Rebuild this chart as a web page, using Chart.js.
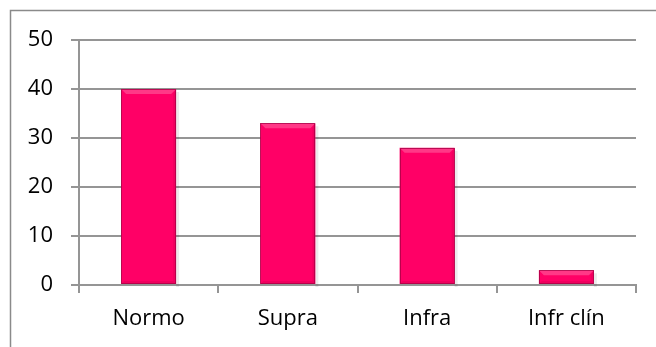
<!DOCTYPE html>
<html>
<head>
<meta charset="utf-8">
<script src="https://cdn.jsdelivr.net/npm/chart.js@4"></script>
<style>
  html, body { margin: 0; padding: 0; background: #fff; }
  #wrap { width: 656px; height: 347px; }
</style>
</head>
<body>
<div id="wrap"><canvas id="chart" width="656" height="347"></canvas></div>
<script>
// categories and counts
const labels = ['Normo', 'Supra', 'Infra', 'Infr clín'];
const counts = [40, 33, 28, 3];
const yTicks = [0, 10, 20, 30, 40, 50];

const BAR = '#FF0066';
const AXIS = '#959595';

// thin frame round the whole chart (its right and bottom edges run off the canvas)
const frame = {
  id: 'frame',
  beforeDraw(chart) {
    const ctx = chart.ctx;
    ctx.save();
    ctx.strokeStyle = '#8a8a8a';
    ctx.lineWidth = 1.5;
    ctx.strokeRect(10.5, 10.5, chart.width + 20, chart.height + 20);
    ctx.restore();
  }
};

// bevelled look on each bar: light top facet, faint darker sides, soft shadow
const bevel = {
  id: 'bevel',
  beforeDatasetsDraw(chart) {
    const ctx = chart.ctx;
    chart.getDatasetMeta(0).data.forEach(bar => {
      const r = bar.x + bar.width / 2;
      ctx.save();
      ctx.fillStyle = 'rgba(0,0,0,0.08)';
      ctx.fillRect(r, bar.y + 3, 3, bar.base - bar.y);
      ctx.restore();
    });
  },
  afterDatasetsDraw(chart) {
    const ctx = chart.ctx;
    chart.getDatasetMeta(0).data.forEach(bar => {
      const l = bar.x - bar.width / 2, r = bar.x + bar.width / 2;
      const t = bar.y, b = bar.base;
      const d = Math.min(5, (b - t) / 2);
      ctx.save();
      // top facet
      ctx.fillStyle = 'rgba(255,255,255,0.22)';
      ctx.beginPath();
      ctx.moveTo(l, t); ctx.lineTo(r, t); ctx.lineTo(r - d, t + d); ctx.lineTo(l + d, t + d);
      ctx.closePath(); ctx.fill();
      // right facet
      ctx.fillStyle = 'rgba(120,0,40,0.10)';
      ctx.beginPath();
      ctx.moveTo(r, t); ctx.lineTo(r - 3, t + d); ctx.lineTo(r - 3, b - 3); ctx.lineTo(r, b);
      ctx.closePath(); ctx.fill();
      // bottom facet
      ctx.fillStyle = 'rgba(120,0,40,0.12)';
      ctx.beginPath();
      ctx.moveTo(l, b); ctx.lineTo(l + 3, b - 3); ctx.lineTo(r - 3, b - 3); ctx.lineTo(r, b);
      ctx.closePath(); ctx.fill();
      ctx.strokeStyle = 'rgba(170,0,70,0.8)';
      ctx.lineWidth = 1;
      ctx.strokeRect(Math.round(l) + 0.5, Math.round(t) + 0.5, Math.round(r - l) - 1, Math.round(b - t) - 1);
      ctx.restore();
    });
  }
};

Chart.defaults.font.family = '"Open Sans", sans-serif';
Chart.defaults.font.size = 22;
Chart.defaults.color = '#000';

new Chart(document.getElementById('chart'), {
  type: 'bar',
  data: {
    labels: labels,
    datasets: [{
      data: counts,
      backgroundColor: BAR,
      borderWidth: 0,
      categoryPercentage: 1,
      barPercentage: 0.395
    }]
  },
  options: {
    responsive: false,
    animation: false,
    events: [],
    layout: { padding: { left: 10, right: 20, top: 40, bottom: 0 } },
    plugins: { legend: { display: false }, tooltip: { enabled: false } },
    scales: {
      x: {
        grid: { display: true, drawOnChartArea: false, drawTicks: true, tickLength: 8, color: AXIS, lineWidth: 2 },
        border: { display: true, color: AXIS, width: 2 },
        ticks: { padding: 13 },
        afterFit: s => { s.height = 62; }
      },
      y: {
        min: 0,
        max: 50,
        afterBuildTicks: s => { s.ticks = yTicks.map(v => ({ value: v })); },
        grid: { color: AXIS, lineWidth: 2, tickLength: 8 },
        border: { display: true, color: AXIS, width: 2 },
        ticks: { padding: 18 },
        afterFit: s => { s.width = 69; }
      }
    }
  },
  plugins: [frame, bevel]
});
</script>
</body>
</html>
